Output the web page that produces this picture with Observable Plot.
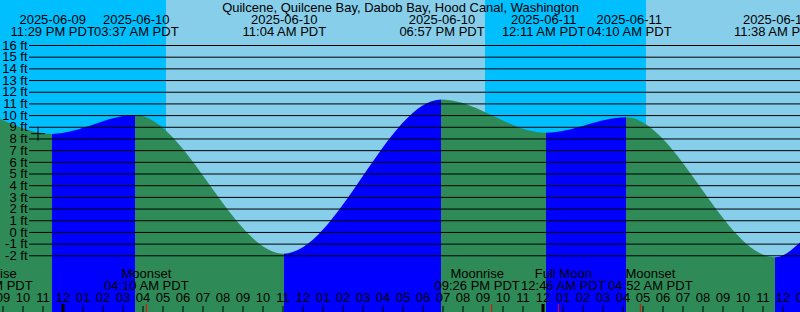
<!DOCTYPE html>
<html><head><meta charset="utf-8">
<script src="https://cdn.jsdelivr.net/npm/d3@7"></script>
<script src="https://cdn.jsdelivr.net/npm/@observablehq/plot@0.6"></script>
<style>body{margin:0;background:#fff} svg{display:block}</style>
</head><body><div id="chart"></div>
<script>
const title = "Quilcene, Quilcene Bay, Dabob Bay, Hood Canal, Washington";
// view window (local PDT, treated as naive UTC)
const viewStart = "2025-06-09T20:52:30Z";
const viewEnd = "2025-06-11T12:52:30Z";
// tide extremes
const eventTimes = ["2025-06-09T23:29Z","2025-06-10T03:37Z","2025-06-10T11:04Z","2025-06-10T18:57Z","2025-06-11T00:11Z","2025-06-11T04:10Z","2025-06-11T11:38Z"];
const eventHeights = [8.39, 10.0, -1.86, 11.33, 8.48, 9.81, -2.17];
// tide level at the window edges
const edgeHeights = [9.67, -0.9];
// sun: sunrise, sunset, sunrise
const sunTimes = ["2025-06-10T05:10:30Z","2025-06-10T21:07:30Z","2025-06-11T05:10:30Z"];
// moon events
const moonNames = ["Moonrise","Moonset","Moonrise","Full Moon","Moonset"];
const moonTimes = ["2025-06-09T20:21Z","2025-06-10T04:10Z","2025-06-10T21:26Z","2025-06-11T00:46Z","2025-06-11T04:52Z"];
// current-time marker
const nowTime = "2025-06-09T22:45Z";
const nowHeight = 8.45;
// height ticks
const yTicks = [-2,-1,0,1,2,3,4,5,6,7,8,9,10,11,12,13,14,15,16];

// label layout nudges (px), as the original spreads crowded labels apart
const eventLabelShift = [0, 1, 0, 0, -3, 3, 0];
const moonLabelShift = [0, 0, -14.5, 5, 10];

const W = 800, H = 312;
const colNightSky = "#00BFFF", colDaySky = "#87CEEB", colFlood = "#0000FF", colEbb = "#2E8B57";
const t0 = new Date(viewStart), t1 = new Date(viewEnd);

const tide = [{time: t0, h: edgeHeights[0]}]
  .concat(eventTimes.map((t, i) => ({time: new Date(t), h: eventHeights[i]})))
  .concat([{time: t1, h: edgeHeights[1]}]);
const events = eventTimes.map((t, i) => ({time: new Date(t), h: eventHeights[i], shift: eventLabelShift[i]}));
const sunB = [t0, ...sunTimes.map(t => new Date(t)), t1];
const sky = d3.range(sunB.length - 1).map(i => ({x1: sunB[i], x2: sunB[i+1], fill: i % 2 === 0 ? colNightSky : colDaySky}));
const moon = moonNames.map((n, i) => ({name: n, time: new Date(moonTimes[i]), shift: moonLabelShift[i]}));
const hours = d3.utcHour.range(d3.utcHour.ceil(t0), d3.utcHour.offset(t1, 1));
const yBottom = 16 - 267 / 11.683, yTop = 16 + 45 / 11.683;

const fDate = d3.utcFormat("%Y-%m-%d");
const fTime = d3.utcFormat("%I:%M %p PDT");
const fHour = d3.utcFormat("%I");

// text marks positioned at time + pixel nudge
function shiftedText(data, opts) {
  return data.map(d => Plot.text([d], {...opts, dx: d.shift}));
}

const svg = Plot.plot({
  width: W, height: H,
  margin: 0,
  x: {type: "utc", domain: [t0, t1], axis: null},
  y: {domain: [yBottom, yTop], axis: null},
  color: {type: "identity"},
  style: {fontFamily: "Liberation Sans, Arial, sans-serif", fontSize: "13px", background: "none", color: "black"},
  marks: [
    Plot.rect(sky, {x1: "x1", x2: "x2", fill: "fill"}),
    Plot.areaY(tide, {x: "time", y1: yBottom, y2: "h", curve: "monotone-x", fill: "url(#tideFill)"}),
    Plot.ruleY(yTicks, {insetLeft: 29, stroke: "black"}),
    Plot.text(yTicks, {y: d => d, text: d => `${d} ft`, frameAnchor: "left", textAnchor: "end", dx: 27, fill: "black"}),
    Plot.dot([{time: new Date(nowTime), h: nowHeight}], {x: "time", y: "h", symbol: "plus", r: 4.5, stroke: "black", strokeWidth: 1}),
    Plot.text([title], {frameAnchor: "top", dy: 7, lineAnchor: "middle", fill: "black"}),
    ...shiftedText(events, {x: "time", text: d => fDate(d.time), frameAnchor: "top", dy: 19.5, lineAnchor: "middle", fill: "black"}),
    ...shiftedText(events, {x: "time", text: d => fTime(d.time), frameAnchor: "top", dy: 31.8, lineAnchor: "middle", fill: "black"}),
    ...shiftedText(moon, {x: "time", text: "name", frameAnchor: "bottom", dy: -38.5, lineAnchor: "middle", fill: "black"}),
    ...shiftedText(moon, {x: "time", text: d => fTime(d.time), frameAnchor: "bottom", dy: -26.3, lineAnchor: "middle", fill: "black"}),
    Plot.text(hours, {x: d => d, text: d => fHour(d), frameAnchor: "bottom", dy: -14.3, lineAnchor: "middle", fill: "black"}),
    Plot.ruleX(hours.filter(d => d.getUTCHours() !== 0), {x: d => d, insetTop: 306, stroke: "black"}),
    Plot.ruleX(hours.filter(d => d.getUTCHours() === 0), {x: d => d, insetTop: 304, stroke: "black", strokeWidth: 3}),
    Plot.ruleX(moon, {x: "time", insetTop: 304, stroke: "red"})
  ]
});

// hard-edged gradient for flood (rising) / ebb (falling) water
const xs = svg.scale("x");
const ns = "http://www.w3.org/2000/svg";
const defs = document.createElementNS(ns, "defs");
const grad = document.createElementNS(ns, "linearGradient");
grad.setAttribute("id", "tideFill");
grad.setAttribute("gradientUnits", "userSpaceOnUse");
grad.setAttribute("x1", 0); grad.setAttribute("x2", W);
grad.setAttribute("y1", 0); grad.setAttribute("y2", 0);
for (let i = 0; i < tide.length - 1; i++) {
  const c = tide[i+1].h > tide[i].h ? colFlood : colEbb;
  for (const t of [tide[i].time, tide[i+1].time]) {
    const s = document.createElementNS(ns, "stop");
    s.setAttribute("offset", Math.max(0, Math.min(1, xs.apply(t) / W)));
    s.setAttribute("stop-color", c);
    grad.appendChild(s);
  }
}
defs.appendChild(grad);
svg.insertBefore(defs, svg.firstChild);
document.getElementById("chart").appendChild(svg);
</script>
</body></html>
